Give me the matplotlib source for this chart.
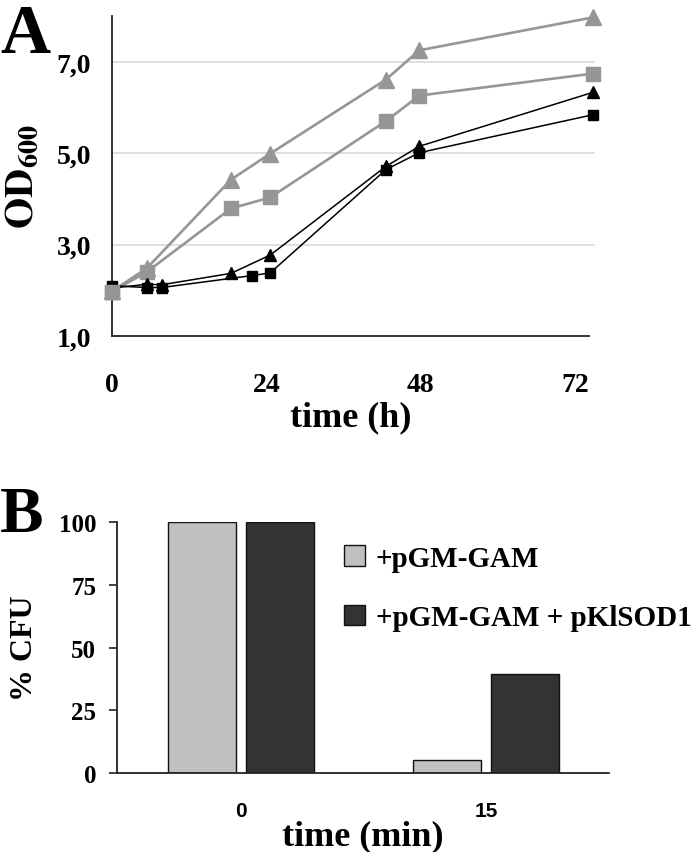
import matplotlib
matplotlib.use("Agg")
import matplotlib.pyplot as plt
import numpy as np

plt.rcParams['font.family'] = ['Liberation Serif', 'DejaVu Serif']
plt.rcParams['font.weight'] = 'bold'
plt.rcParams['mathtext.fontset'] = 'stix'

# ---- Panel A data (time in h, OD600) ----
t_gray_tri = [0, 5.4, 18.5, 24.6, 42.6, 47.8, 74.8]
od_gray_tri = [1.98, 2.48, 4.42, 4.99, 6.61, 7.25, 7.97]
t_gray_sq = [0, 5.4, 18.5, 24.6, 42.6, 47.8, 74.8]
od_gray_sq = [1.97, 2.40, 3.79, 4.03, 5.70, 6.26, 6.74]
t_blk_tri = [0, 5.4, 7.7, 18.5, 24.6, 42.6, 47.8, 74.8]
od_blk_tri = [2.05, 2.13, 2.12, 2.37, 2.77, 4.71, 5.15, 6.33]
t_blk_sq = [0, 5.4, 7.7, 21.7, 24.6, 42.6, 47.8, 74.8]
od_blk_sq = [2.10, 2.06, 2.06, 2.32, 2.38, 4.64, 5.01, 5.84]
xticks_a = [0, 24, 48, 72]
yticks_a = [1.0, 3.0, 5.0, 7.0]
ytick_labels_a = ['1,0', '3,0', '5,0', '7,0']

# ---- Panel B data ----
cats_b = ['0', '15']
cfu_pgm = [100, 5]
cfu_pgm_sod = [100, 39.5]
series_b = ['+pGM-GAM', '+pGM-GAM + pKlSOD1']
yticks_b = [0, 25, 50, 75, 100]

W, H = 700, 853
fig = plt.figure(figsize=(7, 8.53), dpi=100)

def rect(l, t, r, b):
    return [l / W, 1 - b / H, (r - l) / W, (b - t) / H]

# ---------- Panel A ----------
ax = fig.add_axes(rect(112, 17, 589, 337))
ax.set_xlim(0, (589 - 112) / 6.43)
ax.set_ylim(1, 8)
for y in [3, 5, 7]:
    ax.axhline(y, color='#d9d9d9', lw=1.2, zorder=0, xmax=1.01, clip_on=False)
gray = '#969696'
ax.plot(t_gray_tri, od_gray_tri, color=gray, lw=1.9, marker='^', ms=11, clip_on=False, zorder=3)
ax.plot(t_gray_sq, od_gray_sq, color=gray, lw=1.9, marker='s', ms=10, clip_on=False, zorder=3)
ax.plot(t_blk_sq, od_blk_sq, color='black', lw=1.1, marker='s', ms=7.5, clip_on=False, zorder=4)
ax.plot(t_blk_tri, od_blk_tri, color='black', lw=1.1, marker='^', ms=8, clip_on=False, zorder=5)
# redraw gray start point on top
ax.plot(t_gray_sq[:1], od_gray_sq[:1], color=gray, marker='s', ms=10, clip_on=False, zorder=6, ls='none')
for s in ['top', 'right']:
    ax.spines[s].set_visible(False)
for s in ['left', 'bottom']:
    ax.spines[s].set_color('#222222')
    ax.spines[s].set_linewidth(1.3)
ax.set_xticks(xticks_a)
ax.set_xticklabels([str(v) for v in xticks_a], fontsize=20, fontweight='bold')
ax.set_yticks(yticks_a)
ax.set_yticklabels(ytick_labels_a, fontsize=20, fontweight='bold')
ax.tick_params(axis='x', length=0, pad=26)
ax.tick_params(axis='y', length=0, pad=15)
ax.set_xlabel('time (h)', fontsize=26, fontweight='bold', labelpad=2)
ax.set_ylabel(r'$\mathbf{OD_{600}}$', fontsize=29, labelpad=10)

fig.text(0 / W, 1 - 4 / H, 'A', fontsize=50, fontweight='bold', va='top', ha='left')

# ---------- Panel B ----------
bx = fig.add_axes(rect(117, 523, 609, 774))
x = np.arange(len(cats_b))
bw, gap = 0.277, 0.04
off = (bw + gap) / 2
bx.bar(x - off, cfu_pgm, width=bw, color='#c0c0c0', edgecolor='#111111', lw=1.0, label=series_b[0])
bx.bar(x + off, cfu_pgm_sod, width=bw, color='#333333', edgecolor='#111111', lw=1.0, label=series_b[1])
bx.set_xlim(-0.505, 1.5)
bx.set_ylim(0, 100)
for s in ['top', 'right']:
    bx.spines[s].set_visible(False)
for s in ['left', 'bottom']:
    bx.spines[s].set_color('#222222')
    bx.spines[s].set_linewidth(1.3)
bx.set_yticks(yticks_b)
bx.set_yticklabels([str(v) for v in yticks_b], fontsize=18, fontweight='bold')
bx.tick_params(axis='y', length=6, width=1.2, pad=9, color='#222222')
bx.set_xticks(x)
bx.set_xticklabels(cats_b, fontsize=15, fontweight='bold', family=['Liberation Sans', 'DejaVu Sans'])
bx.tick_params(axis='x', length=0, pad=20)
bx.set_xlabel('time (min)', fontsize=26, fontweight='bold', labelpad=0)
bx.set_ylabel('% CFU', fontsize=23, fontweight='bold', labelpad=14)
leg = bx.legend(loc='upper left', bbox_to_anchor=(0.461, 0.91), frameon=False,
                prop={'family': 'Liberation Serif', 'weight': 'bold', 'size': 21},
                handlelength=0.72, handleheight=0.72, handletextpad=0.38, labelspacing=1.12,
                borderpad=0, borderaxespad=0)

fig.text(0 / W, 1 - 486 / H, 'B', fontsize=47, fontweight='bold', va='top', ha='left')

fig.savefig('out.png', dpi=100)
